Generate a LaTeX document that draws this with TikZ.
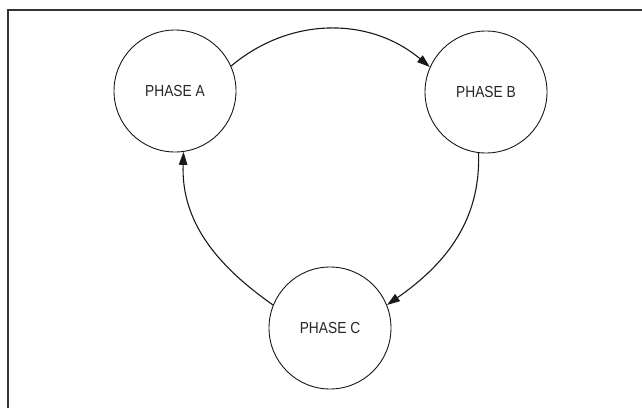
\documentclass[tikz,border=0pt]{standalone}
\usepackage{fontspec}
\setmainfont{Liberation Sans}
\usetikzlibrary{arrows.meta}
\begin{document}
\begin{tikzpicture}[x=1pt,y=1pt,
  phase/.style={circle,draw=black!90,line width=0.9pt,minimum size=122pt,inner sep=0pt,
    text=black!85,font=\fontsize{16}{16}\selectfont},
  flow/.style={draw=black!90,line width=1.1pt,-{Triangle[length=13pt,width=8.5pt]}}]
\useasboundingbox (0,0) rectangle (642,408);
\draw[line width=2pt,black!80] (8,0) -- (8,398) -- (642,398);
\node[phase] (A) at (175,317) {\scalebox{0.86}[1]{PHASE A}};
\node[phase] (B) at (486,316) {\scalebox{0.86}[1]{PHASE B}};
\node[phase] (C) at (330,80) {\scalebox{0.86}[1]{PHASE C}};
\draw[flow] (A.24) to[out=40,in=140] (B.156);
\draw[flow] (B.-97) to[out=-88,in=35] (C.22);
\draw[flow] (C.158) to[out=145,in=-92] (A.-82);
\end{tikzpicture}
\end{document}
